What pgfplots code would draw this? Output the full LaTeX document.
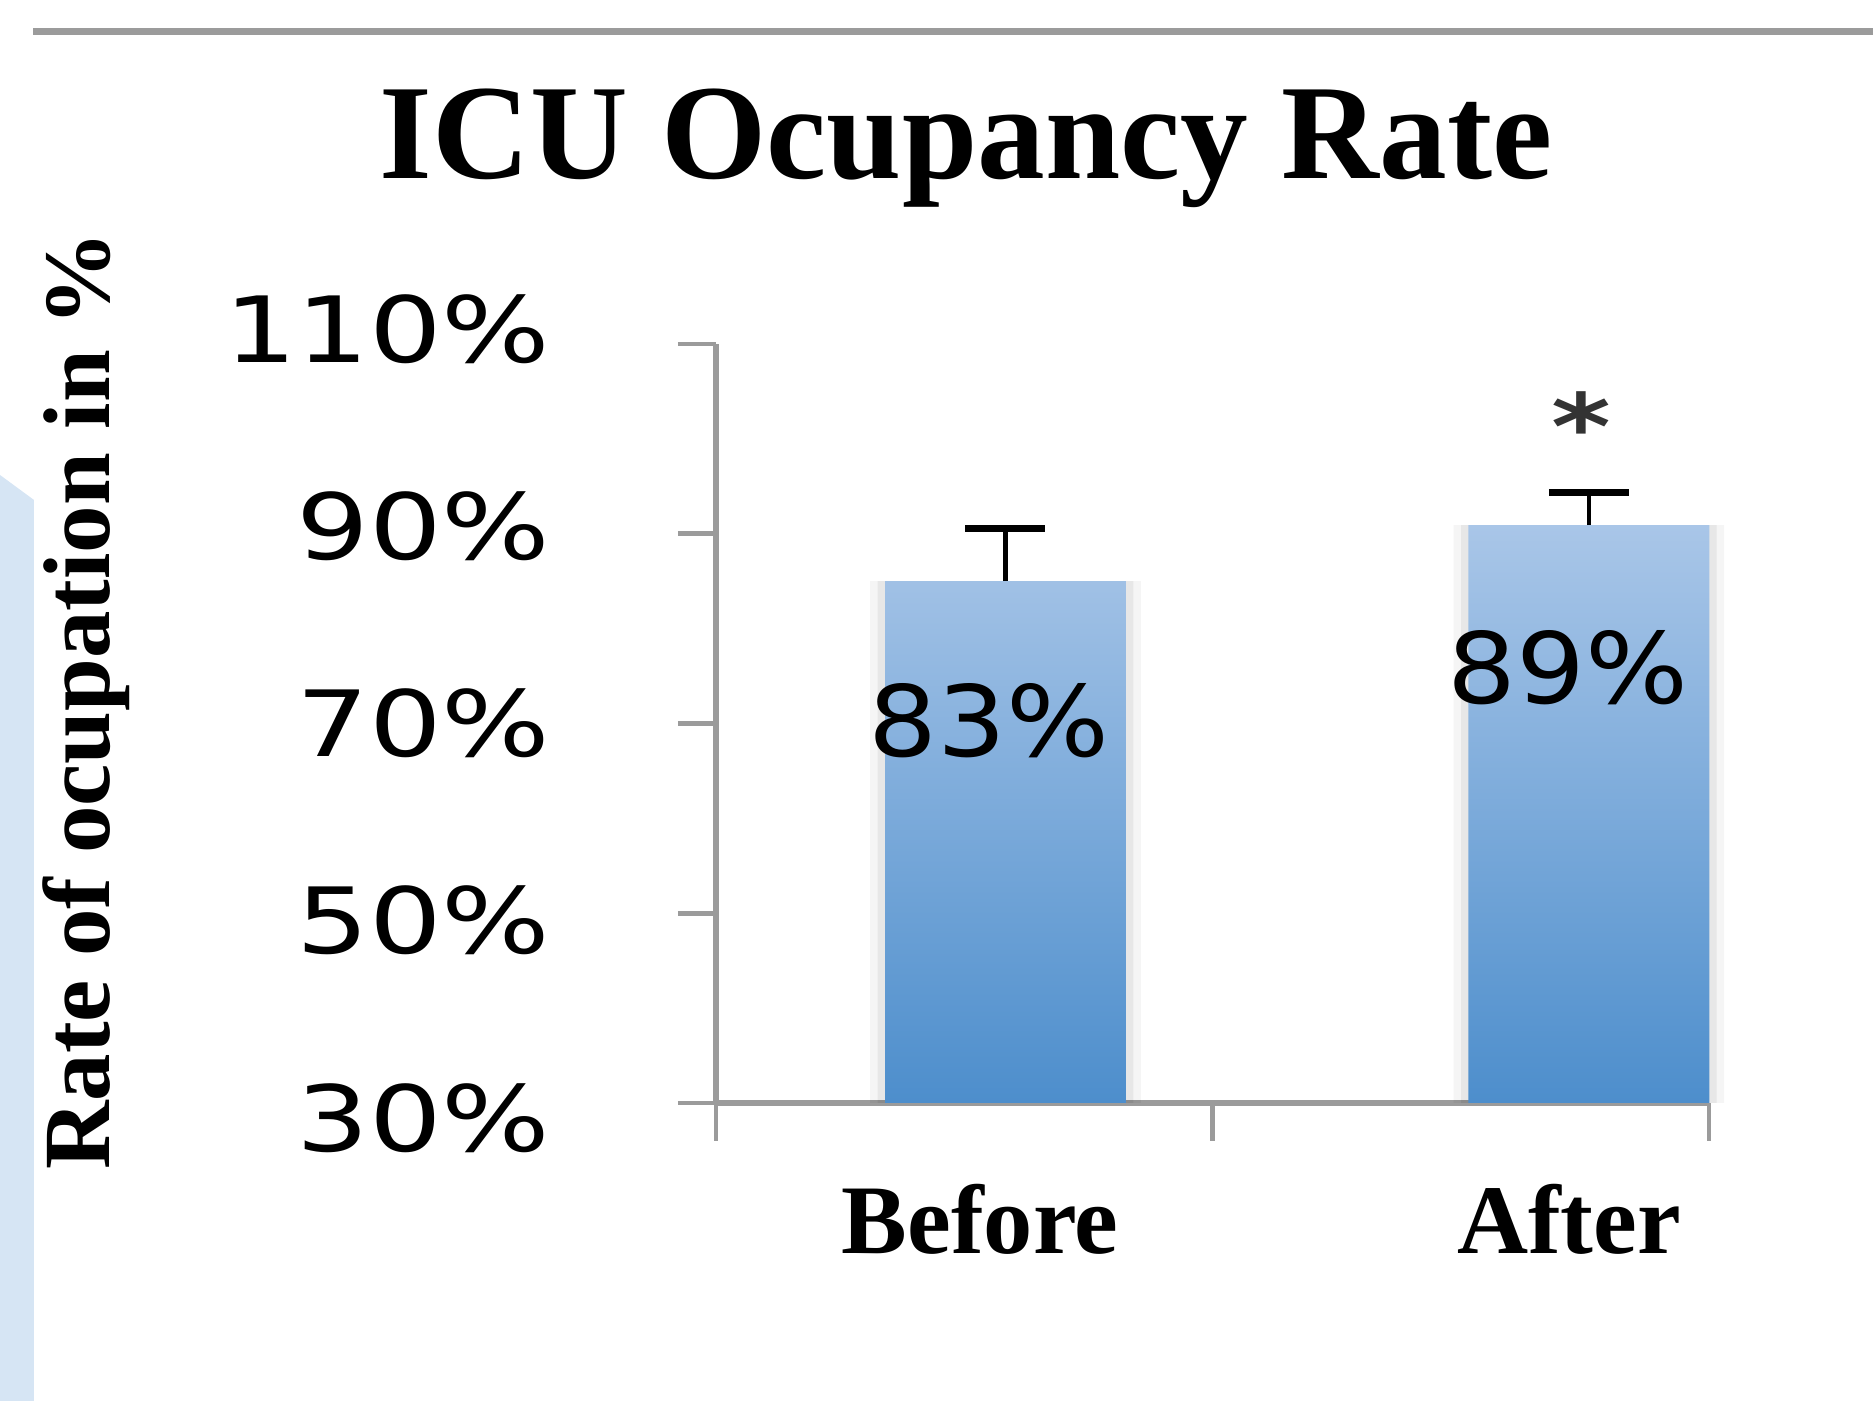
\documentclass[border=0pt]{standalone}
\usepackage{fontspec}
\usepackage{pgfplots}
\pgfplotsset{compat=1.18}
\setmainfont{Liberation Serif}
\newfontfamily\tickfont[FakeStretch=1.25]{DejaVu Sans}
\newfontfamily\datafont[FakeStretch=1.10]{DejaVu Sans}
\definecolor{axgray}{RGB}{155,155,155}
\definecolor{bartop}{RGB}{169,198,232}
\definecolor{barbot}{RGB}{77,142,204}
\definecolor{panel}{RGB}{214,229,244}
\begin{document}
\begin{tikzpicture}
\path[use as bounding box] (0,0) rectangle (18.73,14.01);
\fill[panel] (0,9.26) -- (0.34,9.01) -- (0.34,0) -- (0,0) -- cycle;
\fill[axgray] (0.33,13.66) rectangle (18.73,13.73);
\begin{axis}[
  at={(7.16cm,2.98cm)}, anchor=south west,
  scale only axis, width=9.93cm, height=7.59cm,
  xmin=0, xmax=2, ymin=30, ymax=110,
  axis lines*=left,
  axis line style={axgray, line width=1.6pt},
  tick style={axgray, line width=1.4pt},
  tick align=outside,
  major tick length=0.38cm,
  xtick={0,1,2}, xticklabels={,,},
  extra x ticks={0.532,1.718},
  extra x tick labels={Before,After},
  extra x tick style={major tick length=0pt, xticklabel style={anchor=base, yshift=-1.51cm}},
  xticklabel style={font=\bfseries\fontsize{28}{28}\selectfont},
  ytick={30,50,70,90,110},
  yticklabel={\pgfmathprintnumber{\tick}\%},
  /pgf/number format/assume math mode=true,
  yticklabel style={font=\tickfont\fontsize{26}{26}\selectfont, anchor=east, xshift=-1.15cm, yshift={(\ticknum-2)*0.074cm}},
  ylabel={Rate of ocupation in \%},
  ylabel style={at={(rel axis cs:-0.6103,0.53)}, anchor=base, font=\bfseries\fontsize{27}{27}\selectfont},
  title={ICU Ocupancy Rate},
  title style={at={(rel axis cs:0.252,1.19)}, anchor=base, font=\bfseries\fontsize{38.5}{38.5}\selectfont},
  clip=false,
]
% soft shadow behind the bars
\addplot[ybar, bar width=0.545, bar shift=0pt, draw=none, fill=black, fill opacity=0.04, forget plot]
  coordinates {(0.583,85.0) (1.758,90.9)};
\addplot[ybar, bar width=0.515, bar shift=0pt, draw=none, fill=black, fill opacity=0.06, forget plot]
  coordinates {(0.583,85.0) (1.758,90.9)};
\addplot[ybar, bar width=0.485, bar shift=0pt, draw=none, top color=bartop, bottom color=barbot,
  error bars/.cd, y dir=plus, y explicit,
  error bar style={black, line width=1.3pt},
  error mark options={rotate=90, mark size=0.4cm, line width=2pt, black}]
  coordinates {(0.583,85.0) +- (0,5.6) (1.758,90.9) +- (0,3.4)};
\addplot[draw=none, mark=none, nodes near coords, point meta=explicit symbolic,
  every node near coord/.append style={anchor=center, font=\datafont\fontsize{28}{28}\selectfont, text=black}]
  coordinates {(0.550,70.3) [83\%] (1.716,75.85) [89\%]};
\node[anchor=base, font=\tickfont\bfseries\fontsize{26}{26}\selectfont, text=black!80] at (axis cs:1.742,97.8) {*};
\end{axis}
\end{tikzpicture}
\end{document}
